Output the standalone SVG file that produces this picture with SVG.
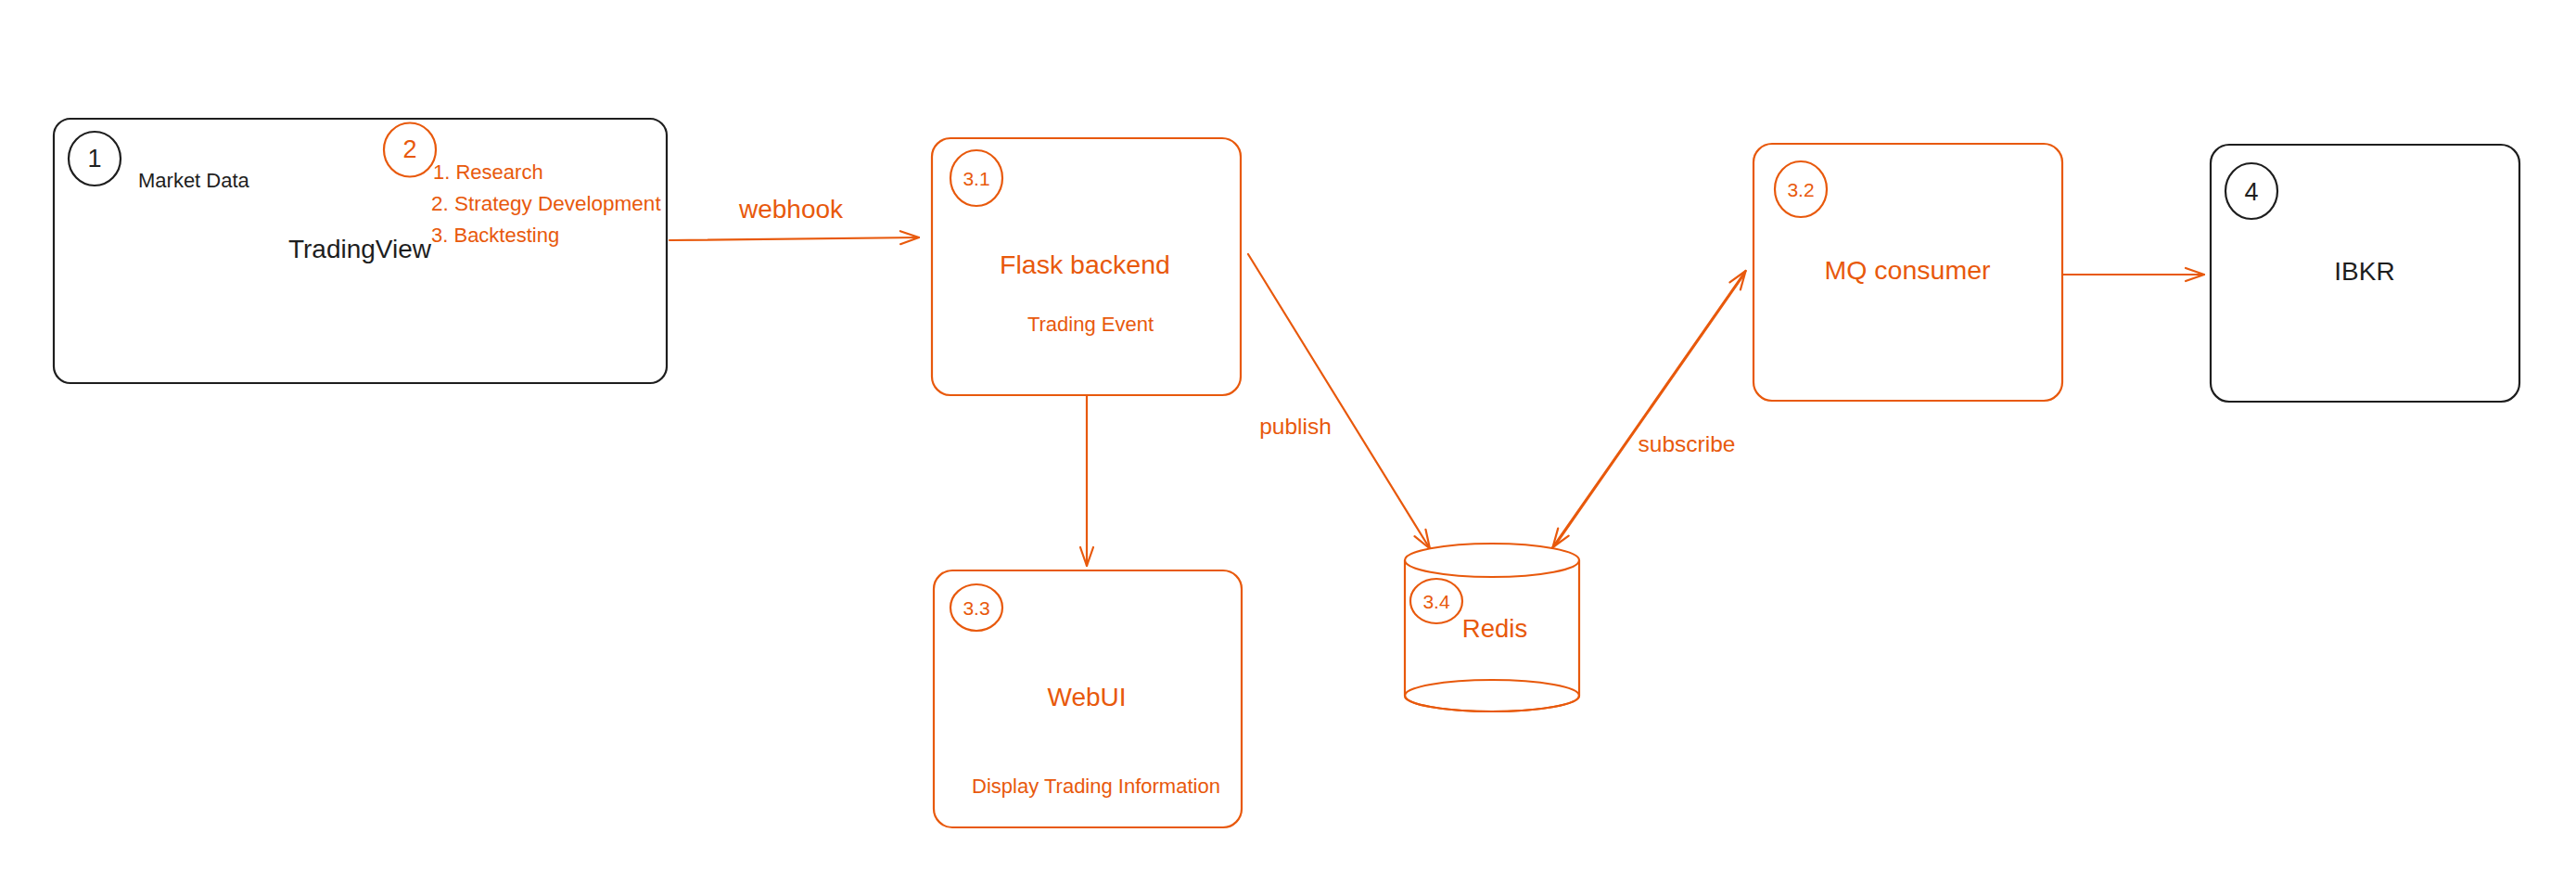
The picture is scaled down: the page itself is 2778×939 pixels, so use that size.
<svg xmlns="http://www.w3.org/2000/svg" width="2778" height="939" viewBox="0 0 2778 939">
<style>
  .bk{fill:#ffffff;stroke:#1e1e1e;stroke-width:2.2}
  .or{fill:#ffffff;stroke:#e8590c;stroke-width:2.2}
  .ol{fill:none;stroke:#e8590c;stroke-width:2.2;stroke-linecap:round}
  text{font-family:"Liberation Sans",Arial,sans-serif}
  .tb{fill:#1e1e1e}
  .to{fill:#e8590c}
</style>
<defs>
  <marker id="ah" markerUnits="userSpaceOnUse" markerWidth="30" markerHeight="30" viewBox="-25 -15 30 30" refX="0" refY="0" orient="auto-start-reverse">
    <path d="M-20,-7 L0,0 L-20,7" fill="none" stroke="#e8590c" stroke-width="2.2" stroke-linecap="round" stroke-linejoin="round"/>
  </marker>
</defs>
<rect width="2778" height="939" fill="#ffffff"/>

<g id="connectors">
  <line class="ol" x1="722" y1="259" x2="991" y2="256" marker-end="url(#ah)"/>
  <line class="ol" x1="1172" y1="427" x2="1172" y2="610" marker-end="url(#ah)"/>
  <line class="ol" x1="1346" y1="274" x2="1542" y2="591.5" marker-end="url(#ah)"/>
  <line class="ol" x1="1674.5" y1="590" x2="1882.6" y2="292" marker-start="url(#ah)" marker-end="url(#ah)"/>
  <line class="ol" x1="1677" y1="588" x2="1880" y2="297" stroke-width="1.4"/>
  <line class="ol" x1="2224" y1="296" x2="2377" y2="296" marker-end="url(#ah)"/>
  <text class="to" x="853" y="235" font-size="28" text-anchor="middle">webhook</text>
  <text class="to" x="1397" y="468" font-size="24.5" text-anchor="middle">publish</text>
  <text class="to" x="1819" y="487" font-size="24.5" text-anchor="middle">subscribe</text>
</g>

<g id="tradingview">
  <rect class="bk" x="58" y="128" width="661" height="285" rx="18"/>
  <ellipse class="bk" cx="102" cy="171" rx="28" ry="29"/>
  <text class="tb" x="102" y="180" font-size="27" text-anchor="middle">1</text>
  <text class="tb" x="149" y="202" font-size="22">Market Data</text>
  <text class="tb" x="388" y="278" font-size="28" text-anchor="middle">TradingView</text>
</g>

<g id="strategy">
  <ellipse class="or" cx="442" cy="161.5" rx="28" ry="29"/>
  <text class="to" x="442" y="170" font-size="27" text-anchor="middle">2</text>
  <text class="to" x="467" y="193" font-size="22">1. Research</text>
  <text class="to" x="465" y="227" font-size="22.5">2. Strategy Development</text>
  <text class="to" x="465" y="261" font-size="22">3. Backtesting</text>
</g>

<g id="flask">
  <rect class="or" x="1005" y="149" width="333" height="277" rx="20"/>
  <ellipse class="or" cx="1053" cy="192" rx="28" ry="30"/>
  <text class="to" x="1053" y="200" font-size="21" text-anchor="middle">3.1</text>
  <text class="to" x="1170" y="295" font-size="28.5" text-anchor="middle">Flask backend</text>
  <text class="to" x="1176" y="357" font-size="22" text-anchor="middle">Trading Event</text>
</g>

<g id="webui">
  <rect class="or" x="1007" y="615" width="332" height="277" rx="20"/>
  <ellipse class="or" cx="1053" cy="655" rx="28" ry="25"/>
  <text class="to" x="1053" y="663" font-size="21" text-anchor="middle">3.3</text>
  <text class="to" x="1172" y="761" font-size="28" text-anchor="middle">WebUI</text>
  <text class="to" x="1182" y="855" font-size="22" text-anchor="middle">Display Trading Information</text>
</g>

<g id="redis">
  <path class="or" d="M1515,604 L1515,750 A94,17 0 0 0 1703,750 L1703,604"/>
  <ellipse class="or" cx="1609" cy="750" rx="94" ry="17" fill="none" style="fill:none"/>
  <ellipse class="or" cx="1609" cy="604" rx="94" ry="18"/>
  <ellipse class="or" cx="1549" cy="648" rx="28" ry="24"/>
  <text class="to" x="1549" y="656" font-size="21" text-anchor="middle">3.4</text>
  <text class="to" x="1612" y="687" font-size="27.5" text-anchor="middle">Redis</text>
</g>

<g id="mqconsumer">
  <rect class="or" x="1891" y="155" width="333" height="277" rx="20"/>
  <ellipse class="or" cx="1942" cy="204" rx="28" ry="30"/>
  <text class="to" x="1942" y="212" font-size="21" text-anchor="middle">3.2</text>
  <text class="to" x="2057" y="301" font-size="28.5" text-anchor="middle">MQ consumer</text>
</g>

<g id="ibkr">
  <rect class="bk" x="2384" y="156" width="333" height="277" rx="20"/>
  <ellipse class="bk" cx="2428" cy="206" rx="28" ry="30"/>
  <text class="tb" x="2428" y="216" font-size="27" text-anchor="middle">4</text>
  <text class="tb" x="2550" y="302" font-size="28" text-anchor="middle">IBKR</text>
</g>
</svg>
